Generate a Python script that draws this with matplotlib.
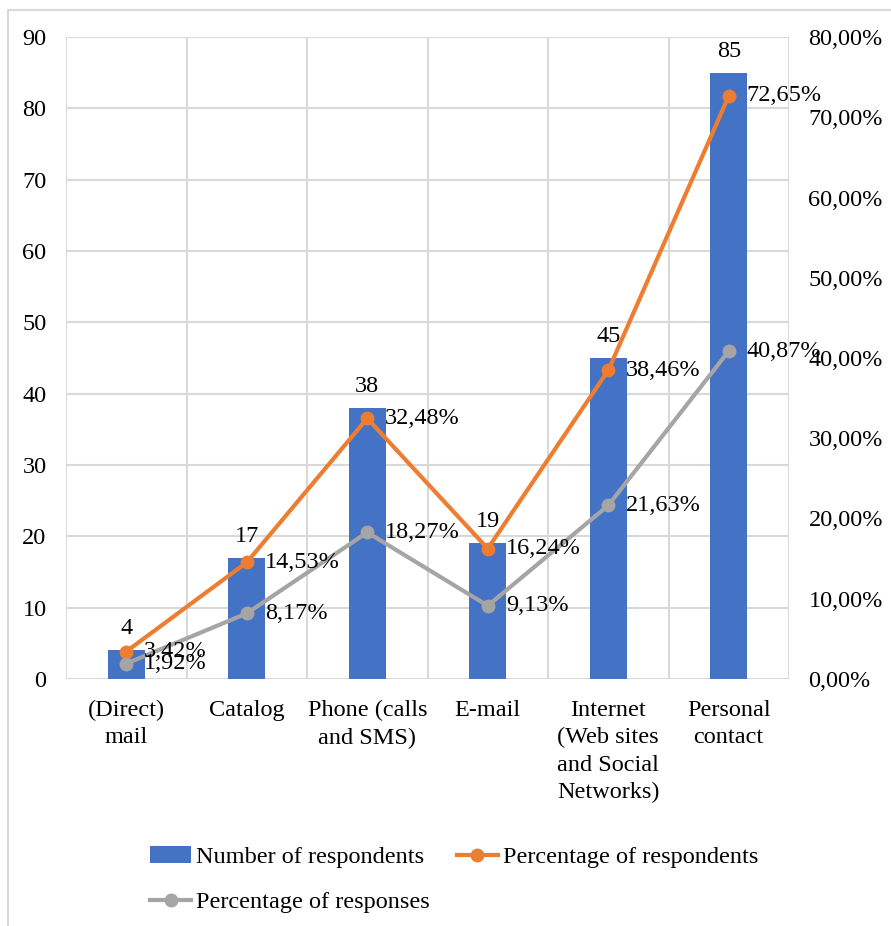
import matplotlib
matplotlib.use("Agg")
import matplotlib.pyplot as plt
from matplotlib.lines import Line2D
from matplotlib.patches import Patch
import numpy as np

plt.rcParams['font.family'] = ['Liberation Serif', 'DejaVu Serif']

categories = ["(Direct)\nmail", "Catalog", "Phone (calls\nand SMS)", "E-mail",
              "Internet\n(Web sites\nand Social\nNetworks)", "Personal\ncontact"]
respondents = [4, 17, 38, 19, 45, 85]
pct_respondents = [3.42, 14.53, 32.48, 16.24, 38.46, 72.65]
pct_responses = [1.92, 8.17, 18.27, 9.13, 21.63, 40.87]
left_ticks = list(range(0, 91, 10))
right_ticks = list(range(0, 81, 10))

BLUE = "#4472C4"
ORANGE = "#ED7D31"
GRAY = "#A5A5A5"
GRID = "#D9D9D9"
FS = 17.5

W, H = 891, 926
fig = plt.figure(figsize=(W / 100, H / 100), dpi=100)
ax = fig.add_axes([66 / W, 1 - 679 / H, (789 - 66) / W, (679 - 37) / H])
ax2 = ax.twinx()

x = np.arange(len(categories))
bars = ax.bar(x, respondents, width=0.31, color=BLUE, zorder=2)
ax.set_xlim(-0.5, len(categories) - 0.5)
ax.set_ylim(0, 90)
ax.set_yticks(left_ticks)
ax.set_yticklabels([str(t) for t in left_ticks], fontsize=FS)
ax.set_xticks(x)
ax.set_xticklabels(categories, fontsize=FS, linespacing=1.4)
ax.set_xticks(np.arange(-0.5, len(categories)), minor=True)
ax.tick_params(axis='y', length=0, pad=14)
ax.tick_params(axis='x', which='both', length=0, pad=15)
ax.grid(axis='y', color=GRID, linewidth=1.5, zorder=0)
ax.grid(axis='x', which='minor', color=GRID, linewidth=1.5, zorder=0)
ax.set_axisbelow(True)
for s in ax.spines.values():
    s.set_visible(False)
for s in ax2.spines.values():
    s.set_visible(False)

for xi, v in zip(x, respondents):
    ax.annotate(str(v), (xi, v), xytext=(0, 8), textcoords='offset points',
                ha='center', va='bottom', fontsize=FS)

ax2.set_ylim(0, 80)
ax2.set_yticks(right_ticks)
ax2.set_yticklabels([f"{t},00%" for t in right_ticks], fontsize=FS)
ax2.tick_params(axis='y', length=0, pad=14)

ax2.plot(x, pct_respondents, color=ORANGE, lw=3, marker='o', ms=9, zorder=3)
ax2.plot(x, pct_responses, color=GRAY, lw=3, marker='o', ms=9, zorder=3)

def pct(v):
    return f"{v:.2f}".replace('.', ',') + "%"

for xi, v in zip(x, pct_respondents):
    ax2.annotate(pct(v), (xi, v), xytext=(13, 0), textcoords='offset points',
                 ha='left', va='center', fontsize=FS, zorder=4)
for xi, v in zip(x, pct_responses):
    ax2.annotate(pct(v), (xi, v), xytext=(13, 0), textcoords='offset points',
                 ha='left', va='center', fontsize=FS, zorder=4)

handles = [
    Patch(facecolor=BLUE, label="Number of respondents"),
    Line2D([], [], color=GRAY, lw=3, marker='o', ms=9, label="Percentage of responses"),
    Line2D([], [], color=ORANGE, lw=3, marker='o', ms=9, label="Percentage of respondents"),
]
fig.legend(handles=handles, ncol=2, loc='upper left',
           bbox_to_anchor=(150 / W, 1 - 846 / H), frameon=False, fontsize=FS,
           handlelength=1.7, handletextpad=0.2, columnspacing=1.1,
           labelspacing=0.95, borderaxespad=0, borderpad=0)

# outer chart frame
fig.add_artist(Line2D([8 / W, 1], [1 - 10 / H, 1 - 10 / H], transform=fig.transFigure,
                      color=GRID, lw=1.5))
fig.add_artist(Line2D([8 / W, 8 / W], [0, 1 - 10 / H], transform=fig.transFigure,
                      color=GRID, lw=1.5))

fig.savefig("out.png", dpi=100)
